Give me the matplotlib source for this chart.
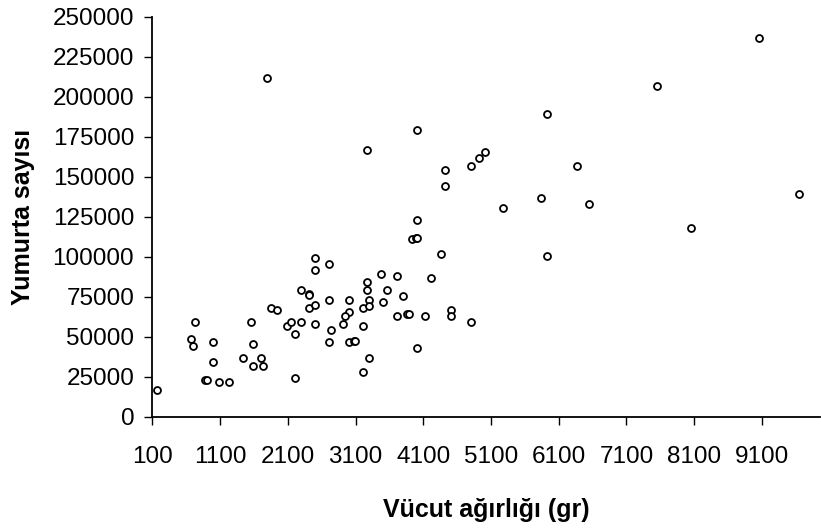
import matplotlib.pyplot as plt

# Body weight (gr) vs. egg count
weight = [174, 735, 672, 706, 1001, 1001, 878, 903, 1085, 1233,
          1440, 1562, 1592, 1592, 1710, 1740, 1853, 1942, 2208, 2090,
          2153, 2208, 2301, 2301, 2410, 2415, 2410, 2503, 2503, 2503,
          2503, 2710, 2710, 2710, 2744, 3930, 4000, 4010, 4365, 3474,
          3710, 4217, 3271, 3271, 3567, 3803, 3005, 3300, 3507, 3212,
          3300, 3005, 2946, 2917, 3710, 3862, 3892, 4128, 4512, 4512,
          4803, 3212, 3005, 3080, 3094, 4001, 3300, 3212, 1795, 3271,
          4009, 4423, 4423, 4807, 4925, 5014, 5280, 4009, 9063, 7556,
          5931, 6374, 5842, 6551, 9651, 8054, 5931]
eggs = [16900, 59400, 48400, 44200, 46900, 34400, 23100, 23100, 21700, 21700,
        36900, 59400, 45600, 31900, 36900, 31900, 68100, 66900, 24400, 56700,
        59400, 51900, 79400, 59400, 76700, 76000, 68100, 99400, 91700, 69600,
        58100, 95600, 73100, 46900, 54400, 110800, 111500, 111900, 101900, 89400,
        88100, 86900, 84400, 79400, 79400, 75600, 73100, 73100, 71900, 68100,
        69400, 65600, 63100, 58100, 63100, 64400, 64400, 63100, 66900, 63100,
        59400, 56900, 46900, 47500, 47000, 43100, 36900, 28100, 211700, 166700,
        179200, 154200, 144200, 156700, 161700, 165400, 130400, 122900, 236700, 206700,
        189200, 156700, 136700, 132900, 139200, 117900, 100400]

x_ticks = [100, 1100, 2100, 3100, 4100, 5100, 6100, 7100, 8100, 9100]
y_ticks = [0, 25000, 50000, 75000, 100000, 125000, 150000, 175000, 200000, 225000, 250000]

plt.rcParams['font.family'] = ['Liberation Sans', 'DejaVu Sans']

fig = plt.figure(figsize=(8.21, 5.28), dpi=100)
ax = fig.add_axes([0.1855, 0.2108, 0.8135, 0.7576])

ax.plot(weight, eggs, linestyle='none', marker='o', markersize=5,
        markerfacecolor='white', markeredgecolor='black', markeredgewidth=1.3,
        clip_on=False)

ax.set_xlim(100, 9960)
ax.set_ylim(0, 250000)
ax.set_xticks(x_ticks)
ax.set_xticklabels([str(t) for t in x_ticks])
ax.set_yticks(y_ticks)
ax.set_yticklabels([str(t) for t in y_ticks])

for side in ['top', 'right']:
    ax.spines[side].set_visible(False)
for side in ['left', 'bottom']:
    ax.spines[side].set_linewidth(1.3)

ax.tick_params(axis='x', direction='out', length=6, width=1, labelsize=17.5, pad=15)
ax.tick_params(axis='y', direction='out', length=6, width=1, labelsize=17.5, pad=7)

ax.set_xlabel('Vücut ağırlığı (gr)', fontsize=18, fontweight='bold', labelpad=22)
ax.set_ylabel('Yumurta sayısı', fontsize=18, fontweight='bold', labelpad=13)

fig.savefig('out.png', dpi=100)
